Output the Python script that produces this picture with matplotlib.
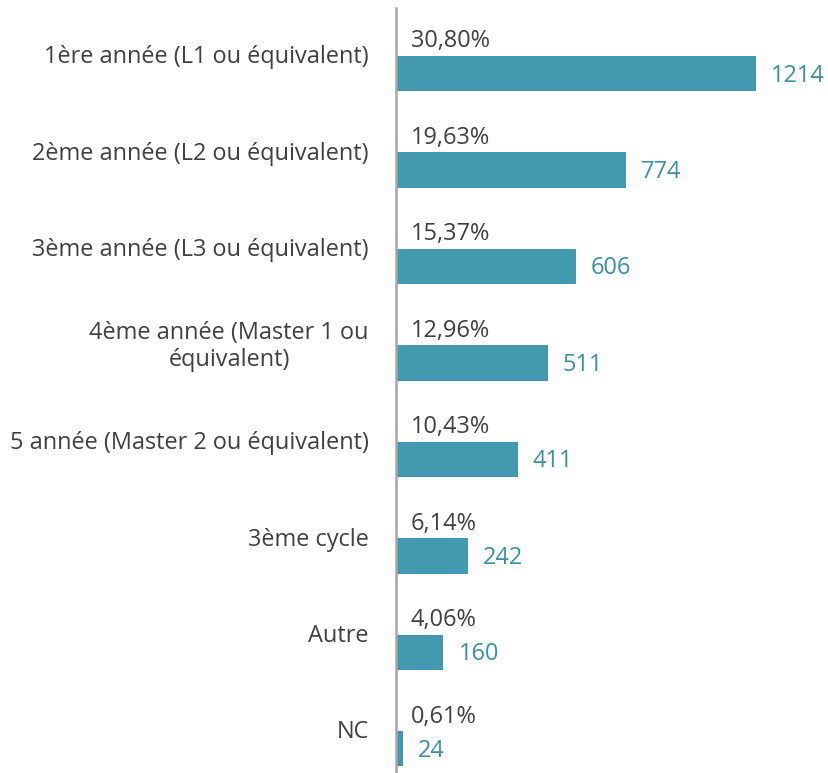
import matplotlib.pyplot as plt

plt.rcParams['font.family'] = ['Open Sans', 'DejaVu Sans']

categories = [
    "1ère année (L1 ou équivalent)",
    "2ème année (L2 ou équivalent)",
    "3ème année (L3 ou équivalent)",
    "4ème année (Master 1 ou\néquivalent)",
    "5 année (Master 2 ou équivalent)",
    "3ème cycle",
    "Autre",
    "NC",
]
counts = [1214, 774, 606, 511, 411, 242, 160, 24]
percents = ["30,80%", "19,63%", "15,37%", "12,96%", "10,43%", "6,14%", "4,06%", "0,61%"]

BAR_COLOR = "#4399af"
COUNT_COLOR = "#3a8fa3"
TEXT_COLOR = "#404040"

W, H = 829, 773
fig = plt.figure(figsize=(W / 100, H / 100), dpi=100)
ax_w = 432
ax = fig.add_axes([396 / W, 0, ax_w / W, 765 / H])
px_per_unit = 360 / 1214
ax.set_xlim(0, ax_w / px_per_unit)
ax.set_ylim(7.25, -0.68)

pos = list(range(len(categories)))
ax.barh(pos, counts, height=0.365, color=BAR_COLOR)

fs = 16.9
for y, c, p, cat in zip(pos, counts, percents, categories):
    ax.text(c + 15 / px_per_unit, y + 0.02, str(c), color=COUNT_COLOR,
            fontsize=fs, va="center", ha="left")
    ax.text(15 / px_per_unit, y - 0.335, p, color=TEXT_COLOR,
            fontsize=fs, va="center", ha="left")
    ax.text(-27 / px_per_unit, y - 0.17, cat, color=TEXT_COLOR, fontsize=fs,
            va="center", ha="right", multialignment="center",
            linespacing=1.15, clip_on=False)

for s in ["top", "right", "bottom"]:
    ax.spines[s].set_visible(False)
ax.spines["left"].set_color("#a6a6a6")
ax.spines["left"].set_linewidth(1.8)
ax.set_xticks([])
ax.set_yticks([])

fig.savefig("out.png", dpi=100)
